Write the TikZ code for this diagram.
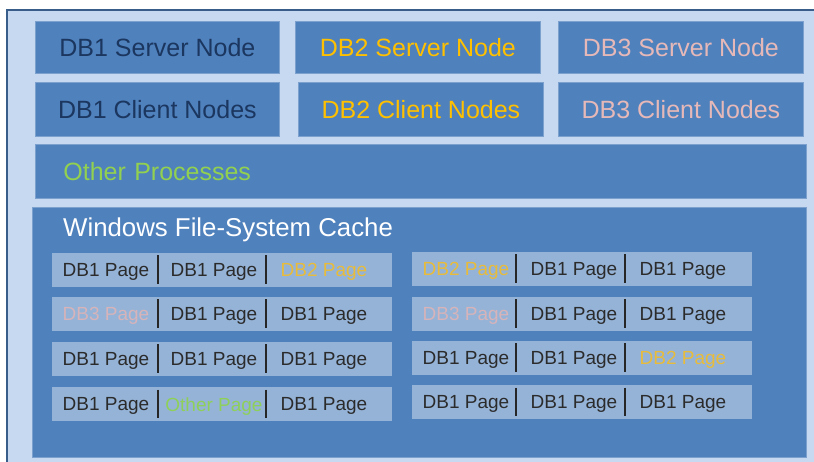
\documentclass[tikz,border=0pt]{standalone}
\usepackage{fontspec}
\setmainfont{Liberation Sans}
\usetikzlibrary{calc}
\definecolor{frameborder}{HTML}{385D8A}
\definecolor{framefill}{HTML}{C6D9F1}
\definecolor{boxfill}{HTML}{4F81BD}
\definecolor{boxline}{HTML}{7DA1CF}
\definecolor{rowfill}{HTML}{95B3D7}
\definecolor{dbone}{HTML}{1B365F}
\definecolor{dbtwo}{HTML}{FFC000}
\definecolor{dbthree}{HTML}{E6B9B8}
\definecolor{othergreen}{HTML}{92D050}
\definecolor{pageink}{HTML}{2B2B2B}
\definecolor{pagetwo}{HTML}{E8BC3A}
\definecolor{pagethree}{HTML}{D6B4BA}
\definecolor{pageother}{HTML}{8ED05A}
\tikzset{
  bigbox/.style={draw=boxline, line width=0.8pt, fill=boxfill, anchor=north west, inner sep=0pt,
    font=\fontsize{25}{30}\selectfont},
  pagerow/.style={draw=none, fill=rowfill, anchor=north west, inner sep=0pt,
    minimum width=340pt, minimum height=34pt},
  pagetext/.style={font=\fontsize{19}{22}\selectfont, inner sep=0pt, anchor=center},
  sepline/.style={draw=black!85, line width=1.4pt},
}
\begin{document}
\begin{tikzpicture}[x=1pt,y=-1pt]
\useasboundingbox (0,0) rectangle (814,462);
% outer frame
\path[fill=framefill, draw=frameborder, line width=1.6pt] (7,10) rectangle (830,480);
% top boxes
\node[bigbox, minimum width=244pt, minimum height=52pt, text=dbone] (s1) at (35,21) {DB1 Server Node};
\node[bigbox, minimum width=245pt, minimum height=52pt, text=dbtwo] (s2) at (295,21) {DB2 Server Node};
\node[bigbox, minimum width=245pt, minimum height=52pt, text=dbthree] (s3) at (558,21) {DB3 Server Node};
\node[bigbox, minimum width=244pt, minimum height=54pt, text=dbone] (c1) at (35,82) {DB1 Client Nodes};
\node[bigbox, minimum width=245pt, minimum height=54pt, text=dbtwo] (c2) at (298,82) {DB2 Client Nodes};
\node[bigbox, minimum width=245pt, minimum height=54pt, text=dbthree] (c3) at (558,82) {DB3 Client Nodes};
\node[bigbox, minimum width=771pt, minimum height=54pt, text width=715pt, inner xsep=28pt, align=left, text=othergreen] (op) at (35,144) {Other Processes};
% cache
\node[bigbox, minimum width=774pt, minimum height=250pt] (cache) at (32,207) {};
\node[font=\fontsize{25.8}{30}\selectfont, text=white, anchor=west, inner sep=0pt] (title) at (63,230) {Windows File-System Cache};
% page rows
\foreach \i/\x/\y in {l1/52/253, l2/52/297, l3/52/342, l4/52/387, r1/412/252, r2/412/297, r3/412/341, r4/412/385}{
  \node[pagerow] (\i) at (\x,\y) {};
}
% separators
\foreach \i/\a/\b in {l1/106/214, l2/106/214, l3/106/214, l4/106/214, r1/104/213, r2/104/213, r3/104/213, r4/104/213}{
  \draw[sepline] ($(\i.north west)+(\a,2.5)$) -- ($(\i.south west)+(\a,-3.5)$);
  \draw[sepline] ($(\i.north west)+(\b,2.5)$) -- ($(\i.south west)+(\b,-3.5)$);
}
% page texts
\foreach \i/\ta/\ca/\tb/\cb/\tc/\cc in {
  l1/DB1 Page/pageink/DB1 Page/pageink/DB2 Page/pagetwo,
  l2/DB3 Page/pagethree/DB1 Page/pageink/DB1 Page/pageink,
  l3/DB1 Page/pageink/DB1 Page/pageink/DB1 Page/pageink,
  l4/DB1 Page/pageink/Other Page/pageother/DB1 Page/pageink}{
  \node[pagetext, text=\ca] (\i a) at ($(\i.west)+(54,2)$) {\ta};
  \node[pagetext, text=\cb] (\i b) at ($(\i.west)+(162,2)$) {\tb};
  \node[pagetext, text=\cc] (\i c) at ($(\i.west)+(272,2)$) {\tc};
}
\foreach \i/\ta/\ca/\tb/\cb/\tc/\cc in {
  r1/DB2 Page/pagetwo/DB1 Page/pageink/DB1 Page/pageink,
  r2/DB3 Page/pagethree/DB1 Page/pageink/DB1 Page/pageink,
  r3/DB1 Page/pageink/DB1 Page/pageink/DB2 Page/pagetwo,
  r4/DB1 Page/pageink/DB1 Page/pageink/DB1 Page/pageink}{
  \node[pagetext, text=\ca] (\i a) at ($(\i.west)+(54,2)$) {\ta};
  \node[pagetext, text=\cb] (\i b) at ($(\i.west)+(162,2)$) {\tb};
  \node[pagetext, text=\cc] (\i c) at ($(\i.west)+(271,2)$) {\tc};
}
\end{tikzpicture}
\end{document}
